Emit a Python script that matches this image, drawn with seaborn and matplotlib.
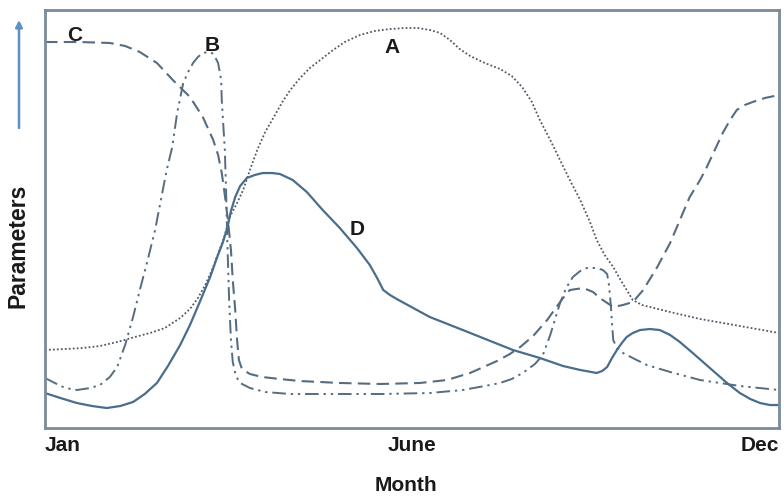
import matplotlib
matplotlib.use("Agg")
import matplotlib.pyplot as plt
import seaborn as sns
import pandas as pd

# Month position along the year (Jan = 0, Dec = 12) and relative parameter level (0-100)
a_month = [0, 0.33, 0.62, 0.90, 1.18, 1.47, 1.72, 1.96, 2.21, 2.37, 2.50, 2.62, 2.73, 2.81,
           2.93, 3.02, 3.14, 3.24, 3.35, 3.47, 3.60, 3.76, 3.89, 4.01, 4.17, 4.33, 4.50,
           4.71, 4.90, 5.15, 5.39, 5.64, 5.89, 6.10, 6.29, 6.46, 6.62, 6.78, 6.95, 7.19,
           7.44, 7.63, 7.80, 7.96, 8.09, 8.26, 8.42, 8.58, 8.75, 8.91, 9.02, 9.15, 9.29,
           9.40, 9.51, 9.61, 9.76, 9.89, 10.22, 10.71, 11.36, 12.0]
a_value = [18.66, 18.90, 19.14, 19.62, 20.57, 21.77, 22.73, 23.92, 26.32, 28.47, 31.10, 34.21,
           37.80, 40.91, 45.69, 50.48, 53.83, 56.94, 61.72, 66.51, 70.81, 74.88, 78.23,
           80.86, 83.73, 86.12, 88.04, 90.43, 92.34, 94.02, 94.98, 95.45, 95.69, 95.69,
           95.22, 94.50, 92.82, 90.67, 89.00, 87.32, 85.89, 84.21, 81.58, 77.99, 73.68,
           68.90, 64.11, 59.33, 54.55, 49.28, 44.98, 41.39, 38.52, 35.65, 33.01, 30.62,
           29.43, 28.95, 27.75, 26.08, 24.40, 22.73]

b_month = [0, 0.16, 0.33, 0.52, 0.74, 0.90, 1.06, 1.18, 1.31, 1.44, 1.55, 1.67, 1.80, 1.91,
           1.99, 2.08, 2.16, 2.26, 2.34, 2.42, 2.50, 2.58, 2.66, 2.73, 2.78, 2.83, 2.88,
           2.89, 2.91, 2.94, 2.96, 2.98, 3.01, 3.04, 3.07, 3.12, 3.19, 3.35, 3.60, 4.01,
           5.48, 6.29, 6.83, 7.19, 7.44, 7.63, 7.81, 8.01, 8.14, 8.26, 8.42, 8.52, 8.63,
           8.75, 8.86, 9.02, 9.12, 9.19, 9.22, 9.25, 9.27, 9.29, 9.35, 9.45, 9.64, 9.84,
           10.22, 10.71, 11.36, 12.0]
b_value = [11.96, 10.77, 9.57, 9.09, 9.57, 10.29, 12.20, 14.59, 19.86, 26.56, 33.01, 39.71,
           47.37, 55.74, 61.72, 67.22, 75.36, 82.54, 85.17, 87.32, 88.76, 89.71, 89.95,
           89.71, 88.76, 87.32, 83.25, 78.47, 73.68, 66.51, 56.94, 44.98, 30.62, 21.05,
           15.79, 12.44, 10.77, 9.57, 8.61, 8.13, 8.13, 8.37, 9.09, 10.05, 10.77, 11.72,
           13.16, 15.31, 17.46, 22.25, 29.90, 33.49, 36.12, 37.56, 38.28, 38.28, 37.80,
           36.84, 34.21, 29.43, 25.12, 21.05, 19.14, 17.94, 16.51, 15.07, 13.40, 11.48,
           10.05, 9.09]

c_month = [0, 0.57, 1.06, 1.31, 1.55, 1.83, 2.09, 2.37, 2.58, 2.75, 2.83, 2.89, 2.94, 2.99,
           3.04, 3.07, 3.11, 3.14, 3.17, 3.22, 3.35, 3.55, 3.84, 4.17, 4.82, 5.48, 6.13,
           6.57, 6.95, 7.39, 7.60, 7.77, 7.98, 8.21, 8.35, 8.47, 8.58, 8.80, 8.96, 9.07,
           9.29, 9.45, 9.61, 9.78, 10.01, 10.22, 10.38, 10.54, 10.71, 10.82, 10.95, 11.08,
           11.20, 11.31, 11.44, 11.57, 11.77, 12.0]
c_value = [92.34, 92.34, 92.11, 91.39, 89.95, 87.32, 83.25, 79.19, 74.40, 68.90, 65.31,
           61.00, 55.74, 49.76, 42.58, 35.41, 28.23, 21.05, 16.27, 14.11, 12.92, 12.20,
           11.72, 11.24, 10.77, 10.53, 10.77, 11.48, 13.16, 16.03, 17.70, 19.38, 22.01,
           25.84, 28.71, 31.10, 33.01, 33.49, 32.54, 31.10, 28.95, 29.43, 30.14, 33.01,
           38.52, 44.26, 49.76, 55.26, 59.33, 62.44, 66.51, 70.57, 73.68, 76.08, 77.27,
           77.99, 78.95, 79.67]

d_month = [0, 0.25, 0.52, 0.77, 1.01, 1.23, 1.44, 1.63, 1.83, 2.01, 2.21, 2.37, 2.53, 2.70,
           2.81, 2.91, 2.98, 3.04, 3.11, 3.19, 3.30, 3.43, 3.56, 3.71, 3.84, 4.05, 4.28,
           4.54, 4.82, 5.10, 5.31, 5.43, 5.53, 5.64, 5.75, 6.08, 6.29, 6.83, 7.65, 8.09,
           8.47, 8.75, 9.02, 9.11, 9.19, 9.27, 9.35, 9.43, 9.51, 9.61, 9.73, 9.89, 10.05,
           10.22, 10.38, 10.59, 10.87, 11.15, 11.36, 11.53, 11.69, 11.85, 12.0]
d_value = [8.37, 7.18, 5.98, 5.26, 4.78, 5.26, 6.22, 8.13, 10.77, 14.83, 19.86, 24.64, 30.14,
           36.12, 40.67, 44.50, 47.85, 51.91, 55.26, 57.89, 59.81, 60.53, 61.00, 61.00,
           60.77, 59.33, 56.46, 52.15, 47.85, 43.06, 39.00, 35.89, 33.01, 31.82, 30.86,
           28.23, 26.56, 23.44, 18.66, 16.75, 14.83, 13.88, 13.16, 13.64, 14.59, 16.75,
           18.66, 20.33, 21.77, 22.73, 23.44, 23.68, 23.44, 22.25, 20.57, 17.94, 14.35,
           10.77, 8.37, 6.94, 5.98, 5.50, 5.50]

tick_months = [0, 6, 12]
tick_labels = ["Jan", "June", "Dec"]

curve_names = ["A", "B", "C", "D"]
label_month = [5.67, 2.73, 0.49, 5.10]
label_value = [91.1, 91.6, 94.0, 47.4]

sns.set_theme(style="white")
plt.rcParams["font.family"] = ["Liberation Sans", "DejaVu Sans"]
plt.rcParams["font.weight"] = "bold"

fig = plt.figure(figsize=(7.84, 4.98), dpi=100)
ax = fig.add_axes([45 / 784, 70 / 498, 734 / 784, 418 / 498])

styles = {
    "A": dict(color="#4e5a66", linestyle=(0, (1, 1.2)), linewidth=1.3),
    "B": dict(color="#566c80", linestyle=(0, (7, 2.5, 1.2, 2.5, 1.2, 2.5)), linewidth=1.4),
    "C": dict(color="#566c80", linestyle=(0, (6, 3)), linewidth=1.5),
    "D": dict(color="#4a6d8c", linestyle="-", linewidth=1.6),
}
series = {
    "A": (a_month, a_value),
    "B": (b_month, b_value),
    "C": (c_month, c_value),
    "D": (d_month, d_value),
}
for name, (mx, my) in series.items():
    df = pd.DataFrame({"month": mx, "value": my})
    sns.lineplot(data=df, x="month", y="value", ax=ax, sort=False,
                 estimator=None, **styles[name])

for name, lx, ly in zip(curve_names, label_month, label_value):
    ax.text(lx, ly, name, ha="center", va="center", fontsize=15,
            fontweight="bold", color="#1a1a1a")

ax.set_xlim(0, 12)
ax.set_ylim(0, 100)
ax.set_xticks(tick_months)
ax.set_xticklabels(tick_labels, fontsize=15, fontweight="bold", color="#1a1a1a")
ax.set_yticks([])
ax.tick_params(axis="x", length=0, pad=6)
labels = ax.get_xticklabels()
labels[0].set_ha("left")
labels[2].set_ha("right")
ax.set_xlabel("")
ax.set_ylabel("")
for side in ["left", "right", "top", "bottom"]:
    ax.spines[side].set_visible(True)
    ax.spines[side].set_color("#7a8b99")
    ax.spines[side].set_linewidth(2.0)

fig.text(406 / 784, 1 - 485 / 498, "Month", ha="center", va="center",
         fontsize=15, fontweight="bold", color="#1a1a1a")
fig.text(18 / 784, 1 - 246 / 498, "Parameters", ha="center", va="center",
         rotation=90, fontsize=16.5, fontweight="bold", color="#1a1a1a")

# upward arrow beside the parameter axis
ax.annotate("", xy=(19 / 784, 1 - 20 / 498), xycoords="figure fraction",
            xytext=(19 / 784, 1 - 128 / 498), textcoords="figure fraction",
            arrowprops=dict(arrowstyle="-|>", color="#5e8fc0", lw=1.8,
                            mutation_scale=10, shrinkA=0, shrinkB=0))

fig.savefig("out.png", dpi=100)
